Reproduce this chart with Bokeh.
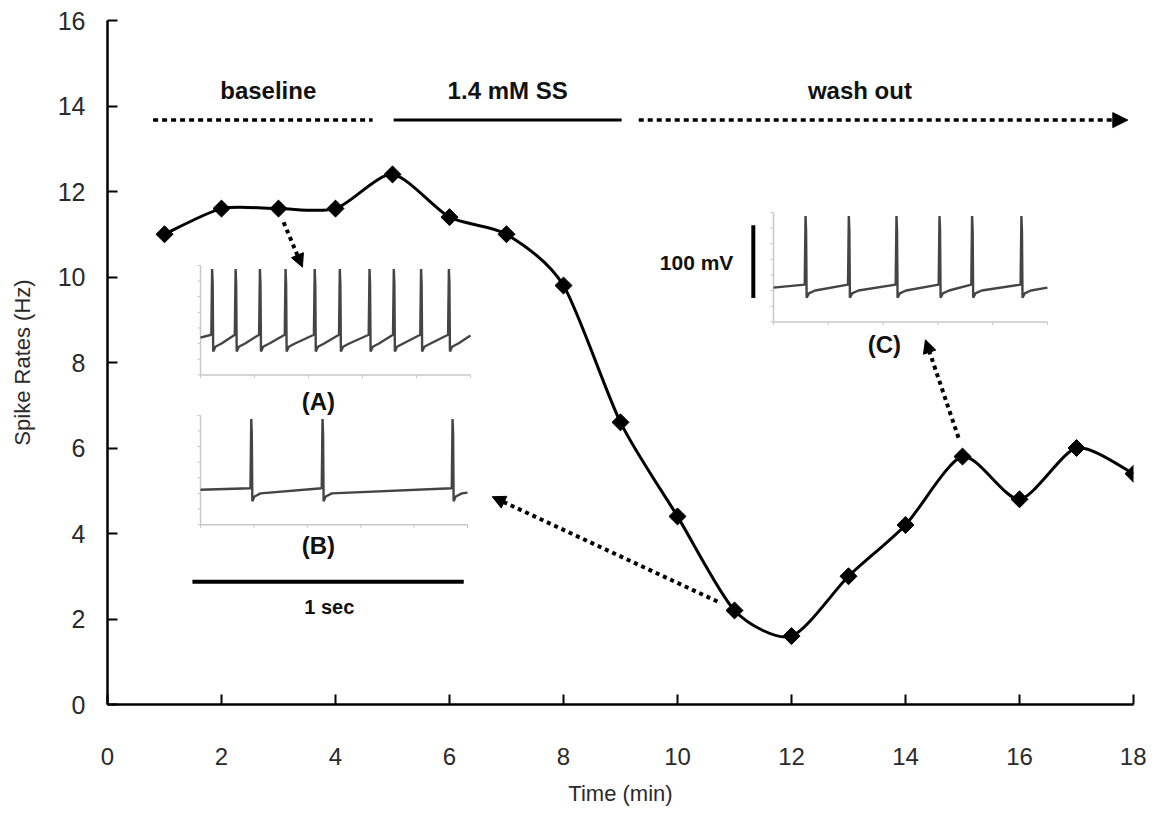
import numpy as np
from bokeh.plotting import figure
from bokeh.models import Arrow, NormalHead, Label, ColumnDataSource, FixedTicker
from bokeh.embed import file_html
from bokeh.resources import INLINE

# ---------------- data ----------------
time_min = [1, 2, 3, 4, 5, 6, 7, 8, 9, 10, 11, 12, 13, 14, 15, 16, 17, 18]
spike_rate = [11.0, 11.6, 11.6, 11.6, 12.4, 11.4, 11.0, 9.8, 6.6, 4.4,
              2.2, 1.6, 3.0, 4.2, 5.8, 4.8, 6.0, 5.4]
x_ticks = [0, 2, 4, 6, 8, 10, 12, 14, 16, 18]
y_ticks = [0, 2, 4, 6, 8, 10, 12, 14, 16]

phase_labels = ["baseline", "1.4 mM SS", "wash out"]
inset_labels = ["(A)", "(B)", "(C)"]

# spike times inside each 1-second inset trace (s)
spikes_A = [0.043, 0.130, 0.220, 0.315, 0.423, 0.516, 0.626, 0.716, 0.817, 0.920]
spikes_B = [0.190, 0.457, 0.944]
spikes_C = [0.117, 0.275, 0.449, 0.606, 0.725, 0.905]
# membrane levels (mV): start, pre-spike, peak, trough, recovery, end
levels_A = [-49, -45, 45, -68, -57, -46]
levels_B = [-52, -50, 45, -68, -57, -56]
levels_C = [-53, -49, 45, -67, -57, -53]

FONT = "'Liberation Sans', Arial, sans-serif"
W, H = 1146, 808
TENSION = 1.0 / 8.0

p = figure(width=W, height=H, x_range=(0, 18), y_range=(0, 16),
           output_backend="svg", toolbar_location=None,
           min_border_left=107, min_border_right=13,
           min_border_top=20, min_border_bottom=103)
p.outline_line_color = None
p.grid.visible = False
p.background_fill_color = "white"

for ax in (p.xaxis[0], p.yaxis[0]):
    ax.axis_line_width = 2.5
    ax.axis_line_color = "black"
    ax.major_tick_line_width = 2
    ax.major_tick_line_color = "black"
    ax.major_tick_in = 10
    ax.major_tick_out = 0
    ax.minor_tick_line_color = None
    ax.major_label_text_font = FONT
    ax.major_label_text_color = "#2a2a2a"
    ax.axis_label_text_font = FONT
    ax.axis_label_text_font_style = "normal"
    ax.axis_label_text_color = "#2a2a2a"

p.xaxis.ticker = FixedTicker(ticks=x_ticks)
p.yaxis.ticker = FixedTicker(ticks=y_ticks)
p.xaxis.major_label_text_font_size = "24px"
p.yaxis.major_label_text_font_size = "25px"
p.xaxis.major_label_standoff = 43
p.yaxis.major_label_standoff = 22
p.xaxis.axis_label = "Time (min)"
p.yaxis.axis_label = "Spike Rates (Hz)"
p.xaxis.axis_label_text_font_size = "22px"
p.yaxis.axis_label_text_font_size = "22px"
p.xaxis.axis_label_standoff = 13
p.yaxis.axis_label_standoff = 20

# ---------------- smoothed main curve (cardinal spline -> cubic Bezier) ----------------
xs = np.array(time_min, dtype=float)
ys = np.array(spike_rate, dtype=float)
n = len(xs)
bz = dict(x0=[], y0=[], x1=[], y1=[], cx0=[], cy0=[], cx1=[], cy1=[])
for i in range(n - 1):
    i0 = max(i - 1, 0)
    i3 = min(i + 2, n - 1)
    bz["x0"].append(xs[i]); bz["y0"].append(ys[i])
    bz["x1"].append(xs[i + 1]); bz["y1"].append(ys[i + 1])
    bz["cx0"].append(xs[i] + (xs[i + 1] - xs[i0]) * TENSION)
    bz["cy0"].append(ys[i] + (ys[i + 1] - ys[i0]) * TENSION)
    bz["cx1"].append(xs[i + 1] - (xs[i3] - xs[i]) * TENSION)
    bz["cy1"].append(ys[i + 1] - (ys[i3] - ys[i]) * TENSION)
p.bezier(x0="x0", y0="y0", x1="x1", y1="y1", cx0="cx0", cy0="cy0",
         cx1="cx1", cy1="cy1", source=ColumnDataSource(bz),
         line_color="black", line_width=3)
p.scatter(time_min, spike_rate, marker="square", angle=np.pi / 4, size=12,
          fill_color="black", line_color="black")

# ---------------- phase bars ----------------
PHASE_Y = 13.67
p.line([0.8, 4.65], [PHASE_Y, PHASE_Y], line_color="black", line_width=3.5,
       line_dash="5 4")
p.line([5.02, 9.02], [PHASE_Y, PHASE_Y], line_color="black", line_width=3)
p.add_layout(Arrow(x_start=9.32, y_start=PHASE_Y, x_end=17.9, y_end=PHASE_Y,
                   line_color="black", line_width=3.5, line_dash="5 4",
                   end=NormalHead(size=15, fill_color="black", line_color="black")))
for txt, cx in zip(phase_labels, [2.82, 7.02, 13.2]):
    p.add_layout(Label(x=cx, y=14.37, text=txt, text_align="center",
                       text_baseline="middle", text_font=FONT,
                       text_font_style="bold", text_font_size="24px",
                       text_color="#111111"))

# ---------------- inset traces ----------------
def draw_inset(box, spikes, lv):
    bx0, bx1, by0, by1 = box
    start, pre, peak, trough, rec, end = lv
    t = [0.0]; v = [start]
    for k, ts in enumerate(spikes):
        t += [ts - 0.003, ts, ts + 0.002, ts + 0.004, ts + 0.012, ts + 0.035]
        v += [pre, peak, peak - 20, trough, trough + 0.6 * (rec - trough), rec]
    t += [1.0]; v += [end]
    t = np.array(t); v = np.array(v, dtype=float)
    X = bx0 + t * (bx1 - bx0)
    Y = by0 + (v + 100.0) / 150.0 * (by1 - by0)
    # inset axes
    p.line([bx0, bx0], [by0, by1], line_color="#c8c8c8", line_width=1.5)
    p.line([bx0, bx1], [by0, by0], line_color="#c8c8c8", line_width=1.5)
    yt = by0 + np.linspace(0, 1, 8) * (by1 - by0)
    dx = (bx1 - bx0) * 0.012
    p.segment(x0=[bx0 - dx] * 8, y0=list(yt), x1=[bx0] * 8, y1=list(yt),
              line_color="#c8c8c8", line_width=1)
    xt = bx0 + np.linspace(0, 1, 6) * (bx1 - bx0)
    dy = (by1 - by0) * 0.03
    p.segment(x0=list(xt), y0=[by0] * 6, x1=list(xt), y1=[by0 - dy] * 6,
              line_color="#c8c8c8", line_width=1)
    p.line(X, Y, line_color="#444444", line_width=2.4)

draw_inset((1.632, 6.368, 7.71, 10.27), spikes_A, levels_A)
draw_inset((1.632, 6.316, 4.206, 6.764), spikes_B, levels_B)
draw_inset((11.684, 16.49, 8.95, 11.51), spikes_C, levels_C)

for txt, (lx, ly) in zip(inset_labels, [(3.70, 7.08), (3.70, 3.71), (13.63, 8.41)]):
    p.add_layout(Label(x=lx, y=ly, text=txt, text_align="center",
                       text_baseline="middle", text_font=FONT,
                       text_font_style="bold", text_font_size="24px",
                       text_color="#111111"))

# scale bars
p.line([1.49, 6.25], [2.87, 2.87], line_color="black", line_width=4)
p.add_layout(Label(x=3.89, y=2.29, text="1 sec", text_align="center",
                   text_baseline="middle", text_font=FONT, text_font_style="bold",
                   text_font_size="20px", text_color="#111111"))
p.line([11.33, 11.33], [9.51, 11.21], line_color="black", line_width=4)
p.add_layout(Label(x=10.98, y=10.35, text="100 mV", text_align="right",
                   text_baseline="middle", text_font=FONT, text_font_style="bold",
                   text_font_size="21px", text_color="#111111"))

# pointer arrows
for (xa, ya, xb, yb) in [(3.09, 11.28, 3.42, 10.23),
                         (10.70, 2.41, 6.75, 4.86),
                         (14.93, 6.24, 14.35, 8.53)]:
    p.add_layout(Arrow(x_start=xa, y_start=ya, x_end=xb, y_end=yb,
                       line_color="black", line_width=4, line_dash="4 4",
                       end=NormalHead(size=13, fill_color="black", line_color="black")))

open("out.html", "w").write(file_html(p, INLINE))
